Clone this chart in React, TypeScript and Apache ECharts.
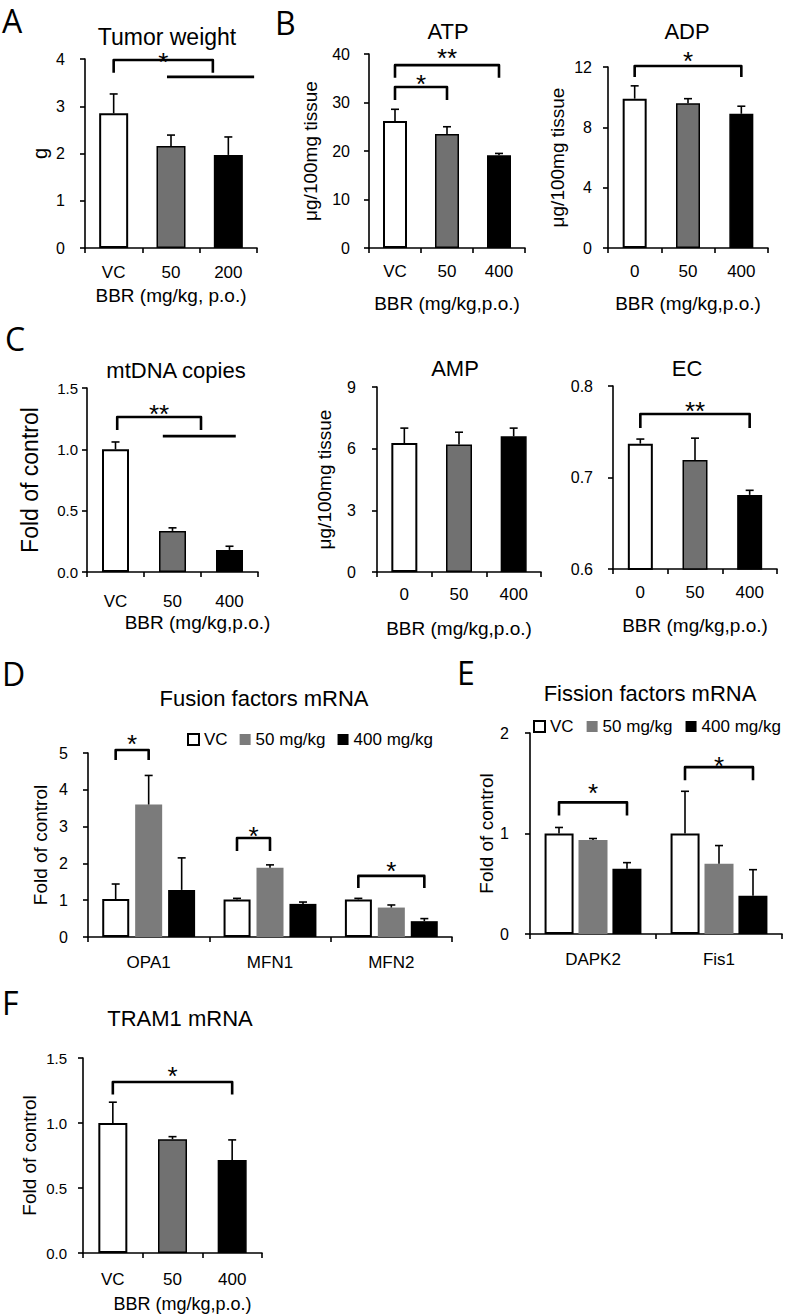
import React, { useEffect, useRef } from "react";
import * as echarts from "echarts";

const FONT = "'Liberation Sans', Arial, Helvetica, sans-serif";
const LETTER_FONT = "'Open Sans', 'DejaVu Sans', sans-serif";

// ---------------- data ----------------
// A: tumor weight (g)
const tumorCats = ["VC", "50", "200"];
const tumorMean = [2.85, 2.16, 1.97];
const tumorErrTop = [3.26, 2.39, 2.35];

// B: ATP / ADP (µg/100mg tissue)
const atpCats = ["VC", "50", "400"];
const atpMean = [26.2, 23.5, 19.1];
const atpErrTop = [28.6, 25.0, 19.5];

const adpCats = ["0", "50", "400"];
const adpMean = [9.9, 9.6, 8.9];
const adpErrTop = [10.75, 9.9, 9.4];

// C: mtDNA copies, AMP, EC
const mtdnaCats = ["VC", "50", "400"];
const mtdnaMean = [1.0, 0.335, 0.18];
const mtdnaErrTop = [1.06, 0.36, 0.21];

const ampCats = ["0", "50", "400"];
const ampMean = [6.27, 6.2, 6.6];
const ampErrTop = [7.0, 6.8, 7.0];

const ecCats = ["0", "50", "400"];
const ecMean = [0.737, 0.719, 0.681];
const ecErrTop = [0.742, 0.743, 0.686];

// D: fusion factors mRNA
const doseNames = ["VC", "50 mg/kg", "400 mg/kg"];
const fusionGenes = ["OPA1", "MFN1", "MFN2"];
const fusionVC = [1.03, 1.02, 1.02];
const fusionVCErrTop = [1.44, 1.05, 1.05];
const fusion50 = [3.6, 1.88, 0.8];
const fusion50ErrTop = [4.39, 1.96, 0.87];
const fusion400 = [1.28, 0.9, 0.43];
const fusion400ErrTop = [2.15, 0.95, 0.5];

// E: fission factors mRNA
const fissionGenes = ["DAPK2", "Fis1"];
const fissionVC = [1.0, 1.0];
const fissionVCErrTop = [1.06, 1.42];
const fission50 = [0.935, 0.7];
const fission50ErrTop = [0.95, 0.88];
const fission400 = [0.65, 0.38];
const fission400ErrTop = [0.71, 0.64];

// F: TRAM1 mRNA
const tramCats = ["VC", "50", "400"];
const tramMean = [1.0, 0.875, 0.715];
const tramErrTop = [1.16, 0.895, 0.87];

// significance brackets: [fromCat, fromGroup, toCat, toGroup, topValue, legEndValue, label]
const tumorBrackets: any[] = [[0, 0, 1.73, 0, 3.98, 3.71, "*"]];
const tumorLines: any[] = [[0.93, 2.45, 3.62]];
const atpBrackets: any[] = [
  [0, 0, 2, 0, 37.7, 35.1, "**"],
  [0, 0, 1, 0, 33.2, 30.5, "*"],
];
const adpBrackets: any[] = [[0, 0, 2, 0, 12.07, 11.34, "*"]];
const mtdnaBrackets: any[] = [[0.03, 0, 1.5, 0, 1.263, 1.157, "**"]];
const mtdnaLines: any[] = [[0.83, 2.11, 1.108]];
const ecBrackets: any[] = [[0, 0, 2, 0, 0.7694, 0.754, "**"]];
const fusionBrackets: any[] = [
  [0, 0, 0, 1, 5.08, 4.81, "*"],
  [1, 0, 1, 1, 2.69, 2.34, "*"],
  [2, 0, 2, 2, 1.66, 1.33, "*"],
];
const fissionBrackets: any[] = [
  [0, 0, 0, 2, 1.31, 1.18, "*"],
  [1, 0, 1, 2, 1.66, 1.53, "*"],
];
const tramBrackets: any[] = [[0, 0, 2, 0, 1.315, 1.22, "*"]];

// ---------------- styles / layout ----------------
const GRAY = "#717171";
const GRAY2 = "#7b7b7b";

function singleBarItems(vals: number[]) {
  const fills = ["#ffffff", GRAY, "#000000"];
  return vals.map((v, i) => ({
    value: v,
    itemStyle: { color: fills[i], borderColor: "#000", borderWidth: i === 0 ? 2 : 1.5 },
  }));
}

const groupStyles = [
  { color: "#ffffff", borderColor: "#000", borderWidth: 2 },
  { color: GRAY2, borderWidth: 0 },
  { color: "#000000", borderWidth: 0 },
];

function errorSeries(gi: number, means: number[], tops: number[], offsetPx: number) {
  return {
    type: "custom",
    xAxisIndex: gi,
    yAxisIndex: gi,
    clip: false,
    silent: true,
    z: 5,
    data: means.map((m, i) => [i, m, tops[i]]),
    renderItem: (params: any, api: any) => {
      const i = api.value(0);
      const m = api.value(1);
      const t = api.value(2);
      const p0 = api.coord([i, m]);
      const p1 = api.coord([i, t]);
      const x = p0[0] + offsetPx;
      return {
        type: "group",
        children: [
          { type: "line", shape: { x1: x, y1: p0[1], x2: x, y2: p1[1] }, style: { stroke: "#000", lineWidth: 1.6 } },
          { type: "line", shape: { x1: x - 4, y1: p1[1], x2: x + 4, y2: p1[1] }, style: { stroke: "#000", lineWidth: 1.6 } },
        ],
      };
    },
  };
}

function bracketSeries(gi: number, brackets: any[], lines: any[], slot: number, nGroups: number, starGaps: number[]) {
  const items: any[] = [
    ...brackets.map((b, k) => ({ kind: "b", b, gap: starGaps[k] ?? 9 })),
    ...lines.map((l) => ({ kind: "l", l })),
  ];
  return {
    type: "custom",
    xAxisIndex: gi,
    yAxisIndex: gi,
    clip: false,
    silent: true,
    z: 6,
    data: items.map((it) => [0, it.kind === "b" ? it.b[4] : it.l[2]]),
    renderItem: (params: any, api: any) => {
      const it = items[params.dataIndex];
      const c0 = api.coord([0, 0])[0];
      const c1 = api.coord([1, 0])[0];
      const catW = c1 - c0;
      const px = (cat: number, grp: number) => c0 + cat * catW + (grp - (nGroups - 1) / 2) * slot;
      const py = (v: number) => api.coord([0, v])[1];
      if (it.kind === "l") {
        const [a, b, y] = it.l;
        return {
          type: "line",
          shape: { x1: px(a, 0), y1: py(y), x2: px(b, 0), y2: py(y) },
          style: { stroke: "#000", lineWidth: 2.8 },
        };
      }
      const [ca, ga, cb, gb, top, leg, label] = it.b;
      const x1 = px(ca, ga);
      const x2 = px(cb, gb);
      const yt = py(top);
      const yl = py(leg);
      return {
        type: "group",
        children: [
          {
            type: "polyline",
            shape: { points: [[x1, yl], [x1, yt], [x2, yt], [x2, yl]] },
            style: { stroke: "#000", lineWidth: 2.6, fill: "none", lineJoin: "round" },
          },
          {
            type: "text",
            x: (x1 + x2) / 2,
            y: yt - it.gap + 5,
            style: {
              text: label,
              fill: "#000",
              font: `26px ${FONT}`,
              align: "center",
              verticalAlign: "middle",
              textAlign: "center",
              textVerticalAlign: "middle",
            },
          },
        ],
      };
    },
  };
}

const grids = [
  { left: 85, top: 59, width: 172, height: 189 }, // A
  { left: 369, top: 54, width: 156, height: 194 }, // ATP
  { left: 608, top: 67, width: 160, height: 181 }, // ADP
  { left: 87, top: 388, width: 171, height: 184 }, // mtDNA
  { left: 377, top: 387, width: 164, height: 185 }, // AMP
  { left: 613, top: 386, width: 164, height: 183 }, // EC
  { left: 88, top: 753, width: 364, height: 184 }, // D
  { left: 530, top: 733, width: 252, height: 201 }, // E
  { left: 83, top: 1058, width: 179, height: 195 }, // F
];

const axisCfg = [
  { cats: tumorCats, min: 0, max: 4, interval: 1, dec: 0, yName: "g", yNameSize: 20, yNameGap: 35, yLabSize: 16, yLabMargin: 20, xLabMargin: 16, xName: "BBR (mg/kg, p.o.)", xNameGap: 38, xNameSize: 19, xPad: 0 },
  { cats: atpCats, min: 0, max: 40, interval: 10, dec: 0, yName: "μg/100mg tissue", yNameSize: 19, yNameGap: 49, yLabSize: 16, yLabMargin: 19, xLabMargin: 15, xName: "BBR (mg/kg,p.o.)", xNameGap: 46, xNameSize: 19, xPad: 0 },
  { cats: adpCats, min: 0, max: 12, interval: 4, dec: 0, yName: "μg/100mg tissue", yNameSize: 19, yNameGap: 41, yLabSize: 16, yLabMargin: 16, xLabMargin: 15, xName: "BBR (mg/kg,p.o.)", xNameGap: 46, xNameSize: 19, xPad: 0 },
  { cats: mtdnaCats, min: 0, max: 1.5, interval: 0.5, dec: 1, yName: "Fold of control", yNameSize: 23, yNameGap: 46, yLabSize: 15, yLabMargin: 9, xLabMargin: 21, xName: "BBR (mg/kg,p.o.)", xNameGap: 41, xNameSize: 19, xPad: 50 },
  { cats: ampCats, min: 0, max: 9, interval: 3, dec: 0, yName: "μg/100mg tissue", yNameSize: 19, yNameGap: 43, yLabSize: 16, yLabMargin: 21, xLabMargin: 14, xName: "BBR (mg/kg,p.o.)", xNameGap: 47, xNameSize: 19, xPad: 0 },
  { cats: ecCats, min: 0.6, max: 0.8, interval: 0.1, dec: 1, yName: "", yNameSize: 19, yNameGap: 40, yLabSize: 16, yLabMargin: 20, xLabMargin: 15, xName: "BBR (mg/kg,p.o.)", xNameGap: 47, xNameSize: 19, xPad: 0 },
  { cats: fusionGenes, min: 0, max: 5, interval: 1, dec: 0, yName: "Fold of control", yNameSize: 19, yNameGap: 38, yLabSize: 16, yLabMargin: 20, xLabMargin: 17, xName: "", xNameGap: 40, xNameSize: 19, xPad: 0 },
  { cats: fissionGenes, min: 0, max: 2, interval: 1, dec: 0, yName: "Fold of control", yNameSize: 19, yNameGap: 34, yLabSize: 16, yLabMargin: 21, xLabMargin: 17, xName: "", xNameGap: 40, xNameSize: 19, xPad: 0 },
  { cats: tramCats, min: 0, max: 1.5, interval: 0.5, dec: 1, yName: "Fold of control", yNameSize: 19, yNameGap: 44, yLabSize: 15, yLabMargin: 16, xLabMargin: 18, xName: "BBR (mg/kg,p.o.)", xNameGap: 42, xNameSize: 18, xPad: 20 },
];

const titleDefs = [
  { text: "Tumor weight", x: 167, y: 25, size: 23 },
  { text: "ATP", x: 448, y: 20, size: 22 },
  { text: "ADP", x: 687, y: 20, size: 22 },
  { text: "mtDNA copies", x: 176, y: 359, size: 22 },
  { text: "AMP", x: 455, y: 357, size: 22 },
  { text: "EC", x: 687, y: 357, size: 22 },
  { text: "Fusion factors mRNA", x: 264, y: 687, size: 22 },
  { text: "Fission factors mRNA", x: 650, y: 682, size: 22 },
  { text: "TRAM1 mRNA", x: 180, y: 1007, size: 22 },
];

const letterDefs = [
  { text: "A", x: 2, y: 4 },
  { text: "B", x: 275, y: 6 },
  { text: "C", x: 5, y: 322 },
  { text: "D", x: 2, y: 657 },
  { text: "E", x: 457, y: 656 },
  { text: "F", x: 2, y: 986 },
];

function buildOption() {
  const xAxis: any[] = [];
  const yAxis: any[] = [];
  axisCfg.forEach((c, gi) => {
    xAxis.push({
      type: "category",
      gridIndex: gi,
      data: c.cats,
      boundaryGap: true,
      axisLine: { show: true, onZero: false, lineStyle: { color: "#000", width: 1.6 } },
      axisTick: { show: true, alignWithLabel: false, length: 5, lineStyle: { color: "#000", width: 1.6 } },
      axisLabel: { color: "#000", fontSize: 17, fontFamily: FONT, margin: c.xLabMargin, interval: 0 },
      splitLine: { show: false },
      name: c.xName,
      nameLocation: "middle",
      nameGap: c.xNameGap,
      nameTextStyle: { color: "#000", fontSize: c.xNameSize, fontFamily: FONT, padding: [0, 0, 0, c.xPad] },
    });
    yAxis.push({
      type: "value",
      gridIndex: gi,
      min: c.min,
      max: c.max,
      interval: c.interval,
      axisLine: { show: true, lineStyle: { color: "#000", width: 1.6 } },
      axisTick: { show: true, inside: false, length: 5, lineStyle: { color: "#000", width: 1.6 } },
      axisLabel: {
        color: "#000",
        fontSize: c.yLabSize,
        fontFamily: FONT,
        margin: c.yLabMargin,
        formatter: (v: number) => v.toFixed(c.dec),
      },
      splitLine: { show: false },
      name: c.yName,
      nameLocation: "middle",
      nameRotate: 90,
      nameGap: c.yNameGap,
      nameTextStyle: { color: "#000", fontSize: c.yNameSize, fontFamily: FONT },
    });
  });

  const series: any[] = [];
  const single = [
    { gi: 0, name: "Tumor weight", mean: tumorMean, top: tumorErrTop, bw: 29 },
    { gi: 1, name: "ATP", mean: atpMean, top: atpErrTop, bw: 24 },
    { gi: 2, name: "ADP", mean: adpMean, top: adpErrTop, bw: 24 },
    { gi: 3, name: "mtDNA copies", mean: mtdnaMean, top: mtdnaErrTop, bw: 27 },
    { gi: 4, name: "AMP", mean: ampMean, top: ampErrTop, bw: 26 },
    { gi: 5, name: "EC", mean: ecMean, top: ecErrTop, bw: 25 },
    { gi: 8, name: "TRAM1 mRNA", mean: tramMean, top: tramErrTop, bw: 29 },
  ];
  single.forEach((p) => {
    series.push({
      type: "bar",
      name: p.name,
      xAxisIndex: p.gi,
      yAxisIndex: p.gi,
      barWidth: p.bw,
      silent: true,
      data: singleBarItems(p.mean),
    });
    series.push(errorSeries(p.gi, p.mean, p.top, 0));
  });

  // grouped panels
  const fusionSets = [fusionVC, fusion50, fusion400];
  const fusionTops = [fusionVCErrTop, fusion50ErrTop, fusion400ErrTop];
  const fissionSets = [fissionVC, fission50, fission400];
  const fissionTops = [fissionVCErrTop, fission50ErrTop, fission400ErrTop];
  const dSlot = 27 + 6;
  const eSlot = 29 + 5;
  doseNames.forEach((nm, s) => {
    series.push({
      type: "bar", name: nm, xAxisIndex: 6, yAxisIndex: 6, barWidth: 27, barGap: "22%",
      silent: true, itemStyle: groupStyles[s], data: fusionSets[s],
    });
    series.push({
      type: "bar", name: nm, xAxisIndex: 7, yAxisIndex: 7, barWidth: 29, barGap: "17%",
      silent: true, itemStyle: groupStyles[s], data: fissionSets[s],
    });
  });
  doseNames.forEach((nm, s) => {
    series.push(errorSeries(6, fusionSets[s], fusionTops[s], (s - 1) * dSlot));
    series.push(errorSeries(7, fissionSets[s], fissionTops[s], (s - 1) * eSlot));
  });

  series.push(bracketSeries(0, tumorBrackets, tumorLines, 0, 1, [3]));
  series.push(bracketSeries(1, atpBrackets, [], 0, 1, [12, 8]));
  series.push(bracketSeries(2, adpBrackets, [], 0, 1, [10]));
  series.push(bracketSeries(3, mtdnaBrackets, mtdnaLines, 0, 1, [8]));
  series.push(bracketSeries(5, ecBrackets, [], 0, 1, [8]));
  series.push(bracketSeries(6, fusionBrackets, [], dSlot, 3, [11, 7, 10]));
  series.push(bracketSeries(7, fissionBrackets, [], eSlot, 3, [14, 6]));
  series.push(bracketSeries(8, tramBrackets, [], 0, 1, [11]));

  const title: any[] = [
    ...titleDefs.map((t) => ({
      text: t.text, left: t.x, top: t.y, textAlign: "center", padding: 0,
      textStyle: { fontSize: t.size, fontWeight: "normal", color: "#000", fontFamily: FONT },
    })),
    ...letterDefs.map((t) => ({
      text: t.text, left: t.x, top: t.y, textAlign: "left", padding: 0,
      textStyle: { fontSize: 32, fontWeight: "normal", color: "#000", fontFamily: LETTER_FONT },
    })),
  ];

  const legendText = { fontSize: 17, color: "#000", fontFamily: FONT };
  const legend: any[] = [
    { data: doseNames, left: 187, top: 731, itemWidth: 11, itemHeight: 11, itemGap: 12, icon: "rect", padding: 0, selectedMode: false, textStyle: legendText },
    { data: doseNames, left: 533, top: 718, itemWidth: 11, itemHeight: 11, itemGap: 13, icon: "rect", padding: 0, selectedMode: false, textStyle: legendText },
  ];

  return {
    animation: false,
    backgroundColor: "#ffffff",
    textStyle: { fontFamily: FONT },
    title,
    legend,
    grid: grids.map((g) => ({ ...g, containLabel: false, outerBoundsMode: "none" })),
    xAxis,
    yAxis,
    series,
  };
}

export default function App() {
  const ref = useRef<HTMLDivElement>(null);
  useEffect(() => {
    document.body.style.margin = "0";
    const chart = echarts.init(ref.current as HTMLDivElement, undefined, { renderer: "svg" });
    chart.setOption(buildOption() as any);
    return () => {
      chart.dispose();
    };
  }, []);
  return <div ref={ref} style={{ width: 787, height: 1316 }} />;
}
